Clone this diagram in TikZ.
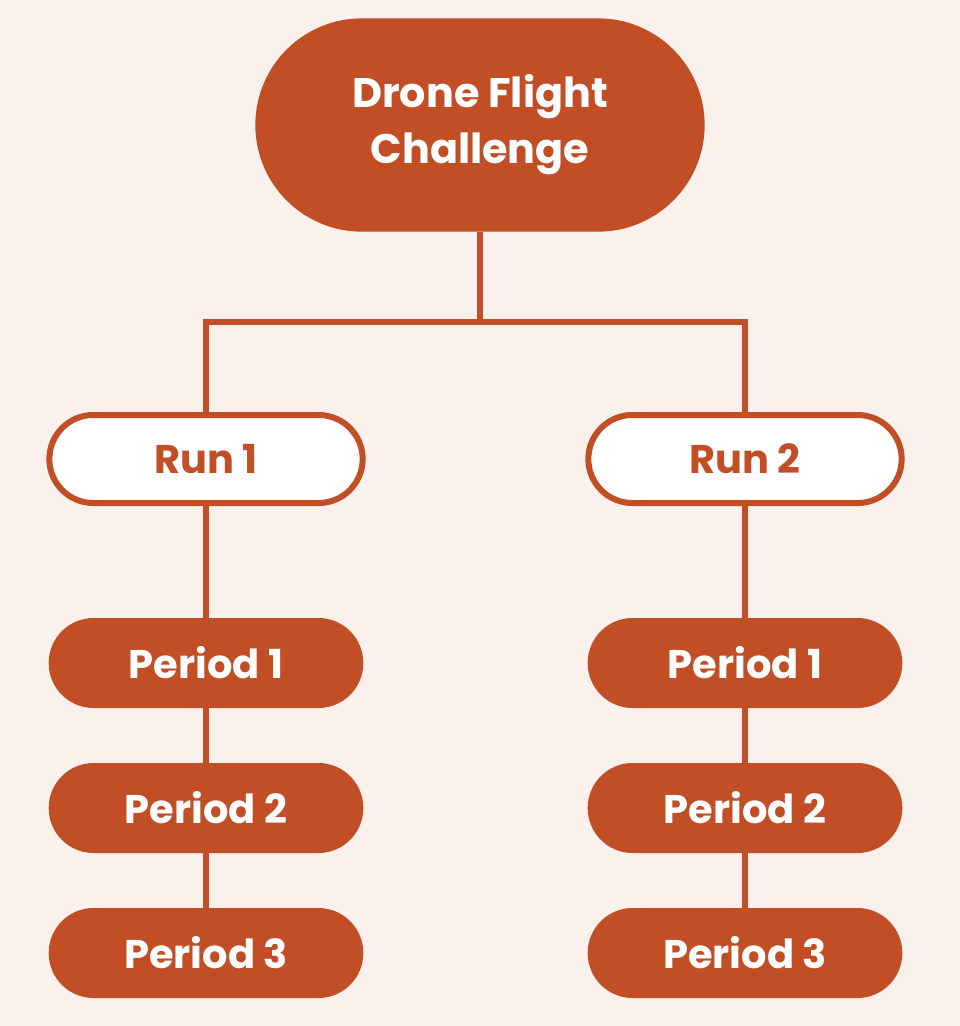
\documentclass[tikz,border=0pt]{standalone}
\usepackage{fontspec}
\setmainfont{Poppins}
\definecolor{bg}{HTML}{FBF1EC}
\definecolor{rust}{HTML}{C24E25}
\begin{document}
\begin{tikzpicture}[x=0.75pt,y=-0.75pt,
  conn/.style={draw=rust,line width=4.5pt},
  period/.style={fill=rust,text=white,minimum width=236pt,minimum height=67.5pt,rounded corners=33.7pt,font=\bfseries\fontsize{30}{34}\selectfont,inner sep=0pt},
  run/.style={draw=rust,line width=4.5pt,fill=white,text=rust,minimum width=235pt,minimum height=66pt,rounded corners=33pt,font=\bfseries\fontsize{30}{34}\selectfont,inner sep=0pt},
  top/.style={fill=rust,text=white,minimum width=337pt,minimum height=160pt,rounded corners=80pt,font=\bfseries\fontsize{31}{42}\selectfont,align=center,inner sep=0pt}]
\fill[bg] (0,0) rectangle (960,1026);
\node[top] (t) at (480,125) {Drone Flight\\Challenge};
\coordinate (j) at (480,322);
\coordinate (jl) at (206,322);
\coordinate (jr) at (745,322);
\draw[conn] (t.south) -- (j);
\draw[conn,line join=miter] (206,412) -- (jl) -- (jr) -- (745,412);
\node[period] (l1) at (206,663) {Period 1};
\node[period] (l2) at (206,808) {Period 2};
\node[period] (l3) at (206,953) {Period 3};
\node[period] (r1) at (745,663) {Period 1};
\node[period] (r2) at (745,808) {Period 2};
\node[period] (r3) at (745,953) {Period 3};
\draw[conn] (206,459) -- (l1) (l1) -- (l2) (l2) -- (l3);
\draw[conn] (745,459) -- (r1) (r1) -- (r2) (r2) -- (r3);
\node[run] (a) at (206,459) {Run 1};
\node[run] (b) at (745,459) {Run 2};
\end{tikzpicture}
\end{document}
